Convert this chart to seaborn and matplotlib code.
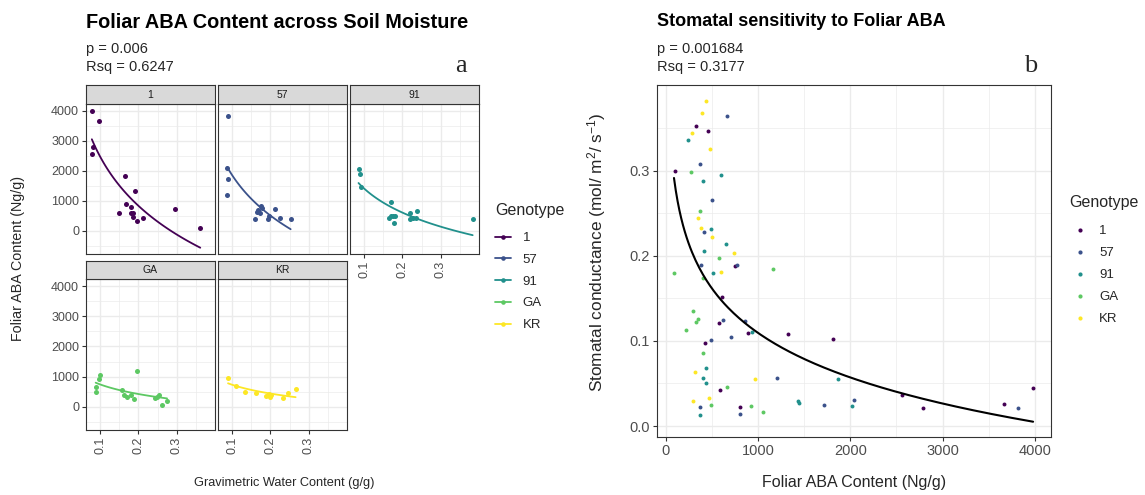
import numpy as np
import matplotlib
matplotlib.use("Agg")
import matplotlib.pyplot as plt
from matplotlib.lines import Line2D
import seaborn as sns

# ---------------- data ----------------
genotypes = ["1", "57", "91", "GA", "KR"]
palette = ["#440154", "#3B528B", "#21908C", "#5DC863", "#FDE725"]

# panel a: gravimetric water content (g/g) vs foliar ABA (Ng/g)
gwc_1 = [0.079, 0.096, 0.080, 0.078, 0.164, 0.190, 0.168, 0.180, 0.150, 0.180, 0.187, 0.186, 0.196, 0.211, 0.297, 0.362]
aba_1 = [4000, 3670, 2780, 2560, 1830, 1340, 900, 800, 590, 590, 610, 470, 340, 430, 740, 100]
gwc_57 = [0.089, 0.087, 0.089, 0.087, 0.166, 0.172, 0.175, 0.179, 0.168, 0.159, 0.194, 0.197, 0.212, 0.226, 0.253]
aba_57 = [3830, 2090, 1720, 1200, 640, 610, 830, 750, 700, 390, 390, 500, 720, 440, 390]
gwc_91 = [0.085, 0.090, 0.091, 0.171, 0.165, 0.169, 0.176, 0.181, 0.177, 0.219, 0.221, 0.228, 0.235, 0.237, 0.384]
aba_91 = [2050, 1880, 1450, 950, 440, 480, 500, 510, 250, 610, 390, 420, 440, 660, 410]
gwc_GA = [0.100, 0.096, 0.088, 0.088, 0.195, 0.158, 0.161, 0.171, 0.180, 0.189, 0.243, 0.254, 0.249, 0.263, 0.275]
aba_GA = [1060, 920, 670, 480, 1170, 560, 400, 330, 400, 250, 300, 400, 330, 70, 200]
gwc_KR = [0.089, 0.111, 0.134, 0.162, 0.188, 0.197, 0.200, 0.202, 0.234, 0.246, 0.266]
aba_KR = [960, 700, 480, 460, 370, 420, 310, 390, 280, 460, 590]

# panel b: foliar ABA (Ng/g) vs stomatal conductance
fab_1 = [325, 458, 101, 751, 610, 577, 895, 1325, 1816, 426, 585, 805, 2557, 2791, 3666, 3980]
gs_1 = [0.353, 0.347, 0.300, 0.188, 0.152, 0.121, 0.109, 0.108, 0.102, 0.097, 0.042, 0.022, 0.037, 0.021, 0.026, 0.045]
fab_57 = [661, 375, 502, 418, 386, 769, 621, 859, 711, 488, 1209, 368, 805, 1712, 2040, 3817]
gs_57 = [0.364, 0.308, 0.266, 0.228, 0.189, 0.189, 0.125, 0.123, 0.105, 0.101, 0.056, 0.022, 0.014, 0.025, 0.031, 0.021]
fab_91 = [238, 596, 408, 488, 650, 412, 509, 938, 433, 401, 440, 1863, 375, 1430, 1444, 2022]
gs_91 = [0.336, 0.295, 0.288, 0.231, 0.214, 0.206, 0.180, 0.110, 0.068, 0.057, 0.050, 0.055, 0.013, 0.029, 0.027, 0.023]
fab_GA = [274, 375, 577, 1166, 90, 408, 299, 350, 325, 217, 408, 668, 494, 924, 1057]
gs_GA = [0.299, 0.253, 0.198, 0.184, 0.180, 0.174, 0.135, 0.126, 0.122, 0.113, 0.086, 0.046, 0.025, 0.024, 0.016]
fab_KR = [433, 390, 282, 477, 347, 382, 502, 737, 596, 318, 964, 469, 299]
gs_KR = [0.382, 0.368, 0.344, 0.325, 0.244, 0.233, 0.222, 0.203, 0.181, 0.063, 0.055, 0.033, 0.029]

left_x = [gwc_1, gwc_57, gwc_91, gwc_GA, gwc_KR]
left_y = [aba_1, aba_57, aba_91, aba_GA, aba_KR]
right_x = [fab_1, fab_57, fab_91, fab_GA, fab_KR]
right_y = [gs_1, gs_57, gs_91, gs_GA, gs_KR]

# ---------------- style ----------------
sns.set_theme(style="white")
plt.rcParams["font.family"] = ["Liberation Sans", "DejaVu Sans"]
plt.rcParams["mathtext.fontset"] = "custom"
plt.rcParams["mathtext.rm"] = "Liberation Sans"
plt.rcParams["mathtext.it"] = "Liberation Sans"

W, H = 1145, 495
fig = plt.figure(figsize=(W / 100, H / 100), dpi=100)
fig.patch.set_facecolor("white")

GRID = "#EBEBEB"
DARK = "#333333"
TXT = "#4D4D4D"


def add_ax(x0, y0, x1, y1):
    return fig.add_axes([x0 / W, 1 - y1 / H, (x1 - x0) / W, (y1 - y0) / H])


def style_ax(ax, lsize):
    ax.set_facecolor("white")
    for s in ax.spines.values():
        s.set_visible(True)
        s.set_color(DARK)
        s.set_linewidth(0.8)
    ax.grid(which="major", color=GRID, lw=1.0)
    ax.grid(which="minor", color=GRID, lw=0.5)
    ax.set_axisbelow(True)
    ax.tick_params(which="major", length=3, width=0.8, color=DARK,
                   labelcolor=TXT, labelsize=lsize, pad=2,
                   bottom=True, left=True)
    ax.tick_params(which="minor", length=0)
    ax.set_xlabel("")
    ax.set_ylabel("")


def log_fit(x, y):
    b, a = np.polyfit(np.log(x), y, 1)
    return a, b


# ---------------- panel a: facets ----------------
cols = [(86, 214.5), (218, 346.5), (350, 478.5)]
rows = [(85, 104, 254), (260.7, 279.3, 430)]
bottom_facets = {2, 3, 4}

for i, g in enumerate(genotypes):
    r, c = divmod(i, 3)
    x0, x1 = cols[c]
    st, pt, pb = rows[r]
    ax = add_ax(x0, pt, x1, pb)
    style_ax(ax, 9)
    gx = np.array(left_x[i])
    gy = np.array(left_y[i])
    a, b = log_fit(gx, gy)
    xs = np.linspace(gx.min(), gx.max(), 100)
    sns.lineplot(x=xs, y=a + b * np.log(xs), color=palette[i], lw=1.3, ax=ax)
    sns.scatterplot(x=gx, y=gy, color=palette[i], s=13, linewidth=0, ax=ax, legend=False)
    ax.set_xlim(0.0627, 0.3993)
    ax.set_ylim(-770, 4226)
    ax.set_xticks([0.1, 0.2, 0.3])
    ax.set_xticks([0.15, 0.25, 0.35], minor=True)
    ax.set_yticks([0, 1000, 2000, 3000, 4000])
    ax.set_yticks([-500, 500, 1500, 2500, 3500], minor=True)
    ax.set_xlabel("")
    ax.set_ylabel("")
    if i in bottom_facets:
        ax.set_xticklabels(["0.1", "0.2", "0.3"], rotation=90)
    else:
        ax.tick_params(axis="x", which="major", length=0, labelbottom=False)
    if c == 0:
        ax.set_yticklabels(["0", "1000", "2000", "3000", "4000"])
    else:
        ax.tick_params(axis="y", which="major", length=0, labelleft=False)
    # strip
    sax = add_ax(x0, st, x1, pt)
    sax.set_facecolor("#D9D9D9")
    sax.set_xticks([])
    sax.set_yticks([])
    for s in sax.spines.values():
        s.set_visible(True)
        s.set_color(DARK)
        s.set_linewidth(0.8)
    sax.text(0.5, 0.5, g, ha="center", va="center", fontsize=7.5,
             color="#1A1A1A", transform=sax.transAxes)

fig.text(86 / W, 1 - 22 / H, "Foliar ABA Content across Soil Moisture",
         fontsize=14.3, fontweight="bold", ha="left", va="center", color="black")
fig.text(86 / W, 1 - 49 / H, "p = 0.006", fontsize=10.5, ha="left", va="center")
fig.text(86 / W, 1 - 67 / H, "Rsq = 0.6247", fontsize=10.5, ha="left", va="center")
fig.text(461 / W, 1 - 66 / H, "a", fontsize=19, ha="center", va="center",
         family="Liberation Serif")
fig.text(18 / W, 1 - 258 / H, "Foliar ABA Content (Ng/g)", fontsize=10.3,
         rotation=90, ha="center", va="center")
fig.text(284 / W, 1 - 483 / H, "Gravimetric Water Content (g/g)", fontsize=9.2,
         ha="center", va="center")

# legend (panel a): title as text, entries as legend
fig.text(495 / W, 1 - 210 / H, "Genotype", fontsize=11.5, ha="left", va="center")
hl = [Line2D([0], [0], color=p, lw=1.3, marker="o", ms=3.3, mew=0) for p in palette]
fig.legend(hl, genotypes, loc="upper left",
           bbox_to_anchor=(495 / W, 1 - 232 / H),
           frameon=False, borderpad=0,
           borderaxespad=0, handlelength=1.2, handletextpad=0.9,
           labelspacing=0.72, fontsize=9.5)

# ---------------- panel b ----------------
axb = add_ax(657, 85, 1051, 437)
style_ax(axb, 10.5)
allx = np.concatenate([np.array(v, float) for v in right_x])
ally = np.concatenate([np.array(v, float) for v in right_y])
a, b = log_fit(allx, ally)
xs = np.linspace(allx.min(), allx.max(), 200)
sns.lineplot(x=xs, y=a + b * np.log(xs), color="black", lw=1.5, ax=axb)
for i, g in enumerate(genotypes):
    sns.scatterplot(x=right_x[i], y=right_y[i], color=palette[i], s=8,
                    linewidth=0, ax=axb, legend=False)
axb.set_xlim(-94, 4174)
axb.set_ylim(-0.0129, 0.4008)
axb.set_xticks([0, 1000, 2000, 3000, 4000])
axb.set_xticks([500, 1500, 2500, 3500], minor=True)
axb.set_yticks([0.0, 0.1, 0.2, 0.3])
axb.set_yticks([0.05, 0.15, 0.25, 0.35], minor=True)
axb.set_yticklabels(["0.0", "0.1", "0.2", "0.3"])
axb.set_xlabel("")
axb.set_ylabel("")

fig.text(657 / W, 1 - 22 / H, "Stomatal sensitivity to Foliar ABA",
         fontsize=13, fontweight="bold", ha="left", va="center", color="black")
fig.text(657 / W, 1 - 49 / H, "p = 0.001684", fontsize=10.5, ha="left", va="center")
fig.text(657 / W, 1 - 67 / H, "Rsq = 0.3177", fontsize=10.5, ha="left", va="center")
fig.text(1031 / W, 1 - 66 / H, "b", fontsize=19, ha="center", va="center",
         family="Liberation Serif")
fig.text(597 / W, 1 - 252 / H, "Stomatal conductance (mol/ m$^{2}$/ s$^{-1}$)",
         fontsize=12.4, rotation=90, ha="center", va="center")
fig.text(854 / W, 1 - 483 / H, "Foliar ABA Content (Ng/g)", fontsize=11.5,
         ha="center", va="center")

# legend (panel b)
fig.text(1069 / W, 1 - 203 / H, "Genotype", fontsize=11.5, ha="left", va="center")
hr = [Line2D([0], [0], color=p, lw=0, marker="o", ms=3, mew=0) for p in palette]
fig.legend(hr, genotypes, loc="upper left",
           bbox_to_anchor=(1069 / W, 1 - 225 / H),
           frameon=False, borderpad=0,
           borderaxespad=0, handlelength=1.6, handletextpad=0.7,
           labelspacing=0.74, fontsize=9.5)

fig.savefig("out.png", dpi=100, facecolor="white")
